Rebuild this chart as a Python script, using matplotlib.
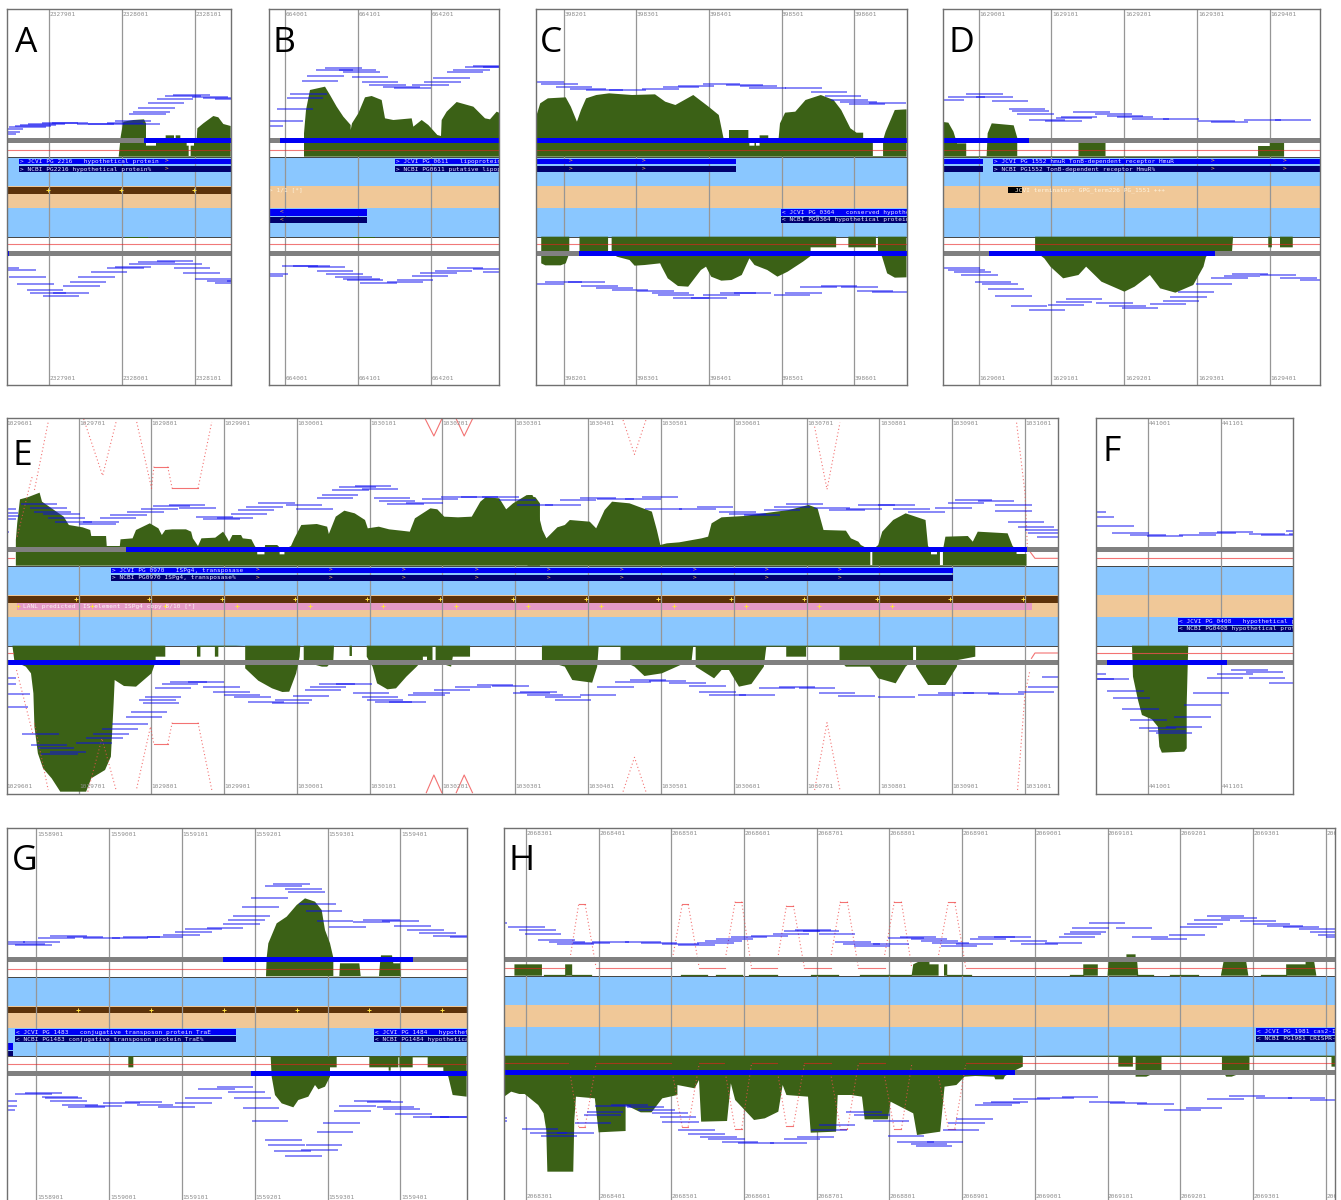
import numpy as np
import matplotlib
matplotlib.use("Agg")
import matplotlib.pyplot as plt

W, H = 1341, 1200

# ---------- measuring scales: picture position = offset + value / scale ----------
S1 = (0, 3.0)
S2 = (530, 1.96)
S3 = (0, 2.904)
S4 = (530, 2.01)
S6 = (495, 1.853)
PX = (0, 1.0)

# ---------- tick labels ----------
a_ticks = ["2327901", "2328001", "2328101"]
b_ticks = ["664001", "664101", "664201"]
c_ticks = ["398201", "398301", "398401", "398501", "398601"]
d_ticks = ["1629001", "1629101", "1629201", "1629301", "1629401"]
e_ticks = ["1029601", "1029701", "1029801", "1029901", "1030001", "1030101", "1030201", "1030301",
           "1030401", "1030501", "1030601", "1030701", "1030801", "1030901", "1031001"]
f_ticks = ["441001", "441101"]
g_ticks = ["1558901", "1559001", "1559101", "1559201", "1559301", "1559401"]
h_ticks = ["2068301", "2068401", "2068501", "2068601", "2068701", "2068801", "2068901", "2069001",
           "2069101", "2069201", "2069301", "2069401"]

a_tick_pos = [148, 366, 585]
b_tick_pos = [856, 1075, 1293]
c_tick_pos = [66, 208, 351, 493, 636]
d_tick_pos = [880, 1022, 1165, 1308, 1450]
e_tick_pos = [5.7, 78.5, 151.2, 224.2, 296.8, 369.5, 442.1, 515.1, 588.2, 660.8, 733.5, 806.6, 879.3, 951.9, 1025]
f_tick_pos = [1148.4, 1221]
g_tick_pos = [109, 328, 546, 765, 983, 1201]
h_tick_pos = [57, 192, 326, 462, 597, 731, 866, 1001, 1135, 1270, 1405, 1540]

# ---------- coverage profiles (position, level) ----------
a_top_cov = [(356,470),(362,410),(370,365),(400,360),(432,358),(438,370),(438,437),(468,437),(468,420),(497,420),(497,406),(522,406),(522,420),(527,420),(527,406),(541,406),(541,420),(560,420),(560,437),(566,437),(566,468),(572,468),(572,437),(582,437),(582,420),(590,420),(592,385),(610,370),(640,348),(655,352),(670,372),(692,378)]
a_bot_cov = [(375,710),(375,714),(445,714),(445,710)]
b_top_cov = [(912,470),(912,400),(918,330),(930,270),(975,260),(990,285),(1010,320),(1030,350),(1052,375),(1052,390),(1056,370),(1075,340),(1095,292),(1115,288),(1145,300),(1155,355),(1180,360),(1235,355),(1240,380),(1265,360),(1285,375),(1312,405),(1323,408),(1325,360),(1340,335),(1370,306),(1420,320),(1455,355),(1470,358),(1490,335),(1497,338)]
b_bot_cov = [(1060,710),(1060,713),(1125,713),(1125,710)]
c_top_cov = [(11,355),(20,310),(35,295),(70,292),(80,320),(92,365),(100,330),(110,295),(130,285),(155,280),(200,285),(245,283),(265,305),(285,315),(320,285),(350,320),(370,345),(380,420),(390,420),(390,390),(428,390),(428,420),(430,420),(430,437),(440,437),(440,420),(443,420),(443,437),(450,437),(450,406),(467,406),(467,420),(487,420),(490,370),(500,338),(520,335),(540,300),(570,285),(595,300),(610,330),(628,385),(640,398),(653,398),(653,420),(672,420),(672,468),(692,468),(692,420),(697,395),(715,330),(738,328)]
c_bot_cov = [(22,710),(22,790),(30,796),(60,796),(70,790),(77,760),(77,710),(97,710),(97,754),(153,754),(153,710),(160,710),(160,754),(170,770),(195,780),(205,797),(225,795),(255,790),(258,800),(270,835),(290,858),(310,860),(335,810),(345,800),(355,830),(375,842),(395,840),(415,825),(430,775),(440,795),(465,810),(485,830),(505,815),(535,785),(550,768),(550,742),(600,742),(600,710),(624,710),(624,742),(678,742),(678,710),(682,710),(682,754),(690,770),(700,820),(715,833),(738,832)]
d_top_cov = [(810,470),(810,366),(820,368),(830,395),(837,430),(855,430),(855,468),(895,468),(897,400),(905,370),(948,376),(955,413),(955,468),(1075,468),(1075,428),(1128,428),(1128,468),(1427,468),(1427,438),(1450,438),(1450,428),(1478,428),(1478,470)]
d_bot_cov = [(990,710),(990,754),(1008,775),(1020,800),(1045,835),(1075,825),(1090,800),(1120,845),(1165,875),(1185,860),(1215,825),(1235,865),(1265,878),(1300,855),(1320,800),(1325,770),(1340,754),(1376,754),(1378,710),(1447,710),(1447,742),(1454,742),(1454,710),(1470,710),(1470,742),(1495,742),(1495,710)]
e1_top_cov = [(46,467),(46,390),(50,340),(58,268),(80,262),(115,248),(122,275),(150,295),(185,320),(200,345),(240,352),(262,360),(265,378),(308,378),(310,408),(348,408),(350,388),(385,385),(395,360),(435,340),(460,355),(470,375),(480,360),(500,358),(540,358),(555,365),(560,385),(575,408),(585,385),(625,383),(648,365),(660,385),(665,395),(675,375),(700,375),(705,385),(730,388),(740,408),(747,418),(747,433),(768,433),(768,418),(770,405),(805,405),(810,410),(812,418),(812,433),(826,433),(826,418),(845,408),(855,385),(875,345),(920,342),(950,350),(955,372),(975,320),(1000,302),(1030,310),(1060,330),(1068,355),(1100,350),(1130,358),(1165,362),(1190,365),(1205,325),(1250,295),(1270,298),(1290,320),(1330,322),(1370,320),(1395,275),(1410,262),(1450,265),(1470,298),(1490,280),(1530,255),(1555,262),(1568,280)]
e2_top_cov = [(-5,255),(5,255),(15,300),(25,360),(33,385),(55,352),(70,345),(80,330),(120,335),(133,355),(150,300),(165,275),(200,280),(245,305),(255,360),(262,405),(275,400),(300,397),(345,385),(358,380),(365,340),(385,322),(430,318),(520,300),(560,285),(578,295),(590,360),(635,362),(645,385),(660,395),(665,405),(684,420),(684,465),(688,465),(688,420),(700,405),(708,365),(730,330),(755,310),(795,330),(800,408),(806,420),(806,433),(818,433),(818,420),(824,420),(824,465),(830,465),(830,420),(835,380),(880,378),(890,395),(900,365),(960,370),(970,408),(978,420),(978,432),(998,432),(998,467)]
e1_bot_cov = [(36,707),(42,755),(75,770),(90,790),(97,850),(100,950),(110,1030),(125,1075),(150,1105),(175,1145),(250,1145),(265,1105),(305,1080),(322,1040),(330,880),(333,810),(360,828),(395,830),(440,790),(452,755),(452,740),(480,740),(480,707),(572,707),(572,740),(582,740),(582,710),(624,710),(624,740),(634,740),(634,710),(712,707),(712,775),(750,812),(790,835),(820,846),(840,845),(860,790),(870,740),(872,707),(882,707),(882,755),(935,770),(950,770),(968,750),(970,707),(1015,707),(1015,738),(1022,738),(1022,707),(1065,707),(1065,740),(1082,770),(1095,820),(1125,838),(1150,835),(1180,800),(1210,770),(1228,750),(1228,740),(1240,740),(1240,750),(1256,750),(1256,710),(1265,710),(1265,755),(1310,770),(1315,740),(1365,740),(1365,707)]
e2_bot_cov = [(24,707),(24,750),(70,770),(85,810),(125,818),(135,770),(138,710),(182,710),(182,750),(210,770),(230,798),(265,790),(295,770),(325,750),(328,710),(333,710),(333,770),(370,805),(385,780),(400,780),(420,830),(445,822),(470,770),(475,710),(515,710),(515,740),(555,740),(555,710),(622,710),(622,750),(635,770),(683,770),(700,805),(735,820),(755,770),(770,750),(770,710),(776,710),(776,770),(800,825),(835,825),(858,770),(860,750),(895,740),(895,710)]
f_bot_cov = [(1210,707),(1212,800),(1222,870),(1230,915),(1250,928),(1262,950),(1265,1010),(1270,1028),(1315,1025),(1320,1015),(1320,880),(1323,710)]
g_top_cov = [(798,468),(800,413),(805,370),(830,310),(860,290),(890,255),(915,235),(945,245),(965,270),(975,330),(990,370),(1000,413),(1000,468),(1018,468),(1020,430),(1078,430),(1082,468),(1137,468),(1140,430),(1143,406),(1176,406),(1180,430),(1200,430),(1202,468)]
g_bot_cov = [(385,710),(385,742),(400,742),(400,710),(812,710),(815,770),(825,825),(845,850),(880,862),(895,840),(925,830),(945,795),(955,808),(975,800),(990,770),(990,742),(1010,742),(1010,710),(1108,710),(1108,742),(1166,742),(1166,752),(1172,752),(1172,742),(1195,742),(1195,712),(1198,712),(1198,742),(1238,742),(1238,712),(1283,712),(1283,742),(1330,742),(1330,752),(1345,770),(1358,825),(1400,830)]
h_top_cov = [(36,467),(36,433),(87,433),(87,467),(130,467),(130,433),(143,433),(143,467),(772,467),(775,433),(785,425),(805,425),(805,433),(822,433),(822,467),(832,467),(832,433),(838,433),(838,467),(1090,467),(1090,433),(1117,433),(1117,467),(1135,467),(1137,425),(1170,425),(1170,403),(1187,403),(1187,425),(1190,425),(1192,467),(1345,467),(1350,425),(1392,425),(1396,467),(1466,467),(1466,433),(1502,433),(1502,425),(1518,425),(1522,467)]
h_bot_cov = [(17,707),(17,830),(30,815),(45,822),(55,822),(80,855),(90,880),(95,930),(97,1055),(145,1055),(147,900),(150,830),(185,835),(192,937),(242,933),(242,855),(270,877),(290,877),(310,835),(338,825),(338,795),(370,805),(378,780),(382,905),(430,903),(437,790),(445,840),(480,900),(500,895),(525,875),(533,795),(540,825),(580,830),(585,938),(632,935),(635,825),(660,825),(680,830),(685,898),(728,898),(733,845),(775,880),(782,945),(825,935),(833,800),(855,795),(870,770),(890,768),(925,770),(927,778),(942,778),(945,768),(965,750),(978,740),(978,707),(1155,710),(1155,740),(1182,740),(1182,710),(1187,710),(1187,770),(1207,770),(1235,750),(1235,710),(1347,710),(1347,750),(1355,770),(1365,770),(1398,750),(1398,710),(1550,710),(1550,740),(1557,740)]
h_low_runs = [(90,130),(143,178),(345,393),(410,458),(470,522),(585,635),(677,728),(728,770),(838,882),(1065,1090),(1190,1220),(1250,1303),(1420,1466)]

# ---------- read placements (start, level) ----------
a_top_reads = [(-60,402),(-50,395),(-40,388),(28,382),(45,378),(60,376),(85,371),(125,369),(155,369),(232,371),(264,372),(320,370),(345,362),(370,372),(388,342),(400,335),(415,324),(443,309),(470,296),(495,288),(520,285),(575,291),(645,296),(610,293)]
a_bot_reads = [(-53,803),(0,811),(28,831),(52,853),(80,871),(90,880),(128,887),(158,880),(190,859),(210,846),(235,830),(272,815),(322,804),(345,802),(388,792),(415,786),(470,783),(497,793),(522,804),(550,820),(585,838),(620,843),(645,849),(680,842)]
b_top_reads = [(740,378),(800,363),(830,326),(860,295),(870,282),(905,243),(922,229),(948,210),(975,204),(1018,211),(1030,217),(1055,230),(1085,247),(1108,254),(1150,260),(1183,265),(1237,256),(1272,245),(1300,235),(1340,216),(1360,210),(1395,200),(1420,198),(1450,200)]
b_bot_reads = [(740,827),(755,821),(845,799),(880,799),(925,800),(950,813),(978,822),(1005,830),(1030,838),(1080,848),(1040,841),(1160,845),(1190,839),(1235,827),(1260,820),(1305,812),(1340,804),(1420,806),(1450,815)]
c_top_reads = [(-5,246),(22,251),(50,262),(78,266),(110,270),(155,271),(220,268),(260,262),(290,257),(340,253),(385,254),(412,258),(430,264),(500,264),(550,277),(578,288),(590,300),(608,306),(625,313),(665,309)]
c_bot_reads = [(-5,852),(30,846),(75,847),(100,857),(130,865),(160,870),(210,873),(240,878),(250,885),(280,895),(315,895),(340,885),(372,880),(400,880),(478,885),(500,878),(530,860),(570,857),(610,862),(640,872),(670,875)]
d_top_reads = [(780,300),(820,290),(855,282),(875,290),(905,302),(938,327),(945,334),(955,342),(978,360),(1010,362),(1030,355),(1040,350),(1065,337),(1108,342),(1130,347),(1150,352),(1180,357),(1240,358),(1310,362),(1335,365),(1400,361),(1460,360)]
d_bot_reads = [(810,805),(820,810),(832,817),(845,825),(872,845),(885,853),(897,868),(912,887),(942,919),(978,929),(1015,915),(1030,907),(1050,897),(1110,910),(1135,917),(1160,923),(1215,912),(1240,903),(1255,890),(1270,877),(1305,853),(1335,833),(1360,827),(1375,822),(1430,825),(1470,833),(1510,840)]
e1_top_reads = [(-60,298),(-55,308),(-50,318),(-60,328),(-80,365),(60,282),(88,293),(100,305),(125,312),(140,323),(160,335),(230,343),(240,335),(290,323),(320,315),(370,305),(410,296),(445,288),(490,286),(520,295),(570,320),(590,326),(630,325),(670,312),(690,300),(715,290),(750,280),(830,285),(860,296),(920,265),(935,256),(965,240),(985,232),(1030,228),(1050,238),(1085,265),(1100,272),(1125,283),(1180,280),(1225,268),(1280,260),(1340,260),(1400,262),(1450,270),(1500,285)]
e2_top_reads = [(30,285),(60,270),(100,265),(135,267),(190,267),(225,260),(232,297),(300,297),(335,291),(380,305),(400,312),(430,315),(470,300),(490,290),(515,282),(570,295),(600,300),(635,296),(660,285),(700,286),(730,298),(760,305),(815,295),(840,280),(855,270),(900,272),(935,285),(935,303),(960,335),(980,352),(995,360),(1000,368),(1020,380)]
e1_bot_reads = [(-60,805),(-60,822),(-20,852),(-25,890),(65,971),(90,1005),(110,1015),(120,1033),(145,1025),(220,1000),(250,985),(270,972),(295,958),(325,943),(365,920),(380,907),(415,880),(405,870),(420,860),(450,835),(470,822),(495,816),(545,817),(590,830),(620,845),(650,855),(680,862),(720,875),(790,878),(800,870),(850,858),(885,840),(900,830),(925,822),(975,823),(1025,848),(1050,860),(1065,870),(1090,876),(1130,877),(1185,855),(1200,848),(1260,840),(1320,830),(1385,825),(1430,828),(1490,848),(1530,855)]
e2_bot_reads = [(-20,845),(30,860),(50,870),(100,855),(135,830),(170,815),(200,810),(240,813),(280,820),(320,828),(340,845),(360,855),(420,855),(460,835),(500,832),(540,835),(580,848),(620,858),(700,860),(780,855),(820,848),(870,848),(920,853),(980,845),(1000,830),(1030,800)]
f_top_reads = [(1085,306),(1100,320),(1140,347),(1170,368),(1205,375),(1240,377),(1305,375),(1345,368),(1380,365),(1445,372),(1470,376),(1520,362),(1525,372)]
f_bot_reads = [(1085,793),(1100,807),(1130,807),(1160,843),(1172,865),(1190,897),(1207,930),(1225,954),(1245,962),(1258,968),(1278,950),(1295,920),(1315,885),(1332,848),(1360,803),(1380,793),(1410,781),(1440,787),(1445,803),(1485,818)]
g_top_reads = [(-35,365),(25,373),(45,375),(70,365),(115,353),(150,348),(200,350),(250,354),(335,354),(370,352),(440,350),(490,344),(525,335),(555,328),(620,325),(670,312),(685,301),(700,288),(727,262),(753,234),(795,198),(820,192),(855,208),(865,216),(898,253),(917,272),(950,303),(988,320),(1060,305),(1090,299),(1147,303),(1183,317),(1222,330),(1258,338),(1300,347),(1350,352)]
g_bot_reads = [(-60,842),(-60,859),(-65,870),(45,822),(75,820),(125,830),(135,835),(150,843),(185,856),(205,860),(255,858),(310,848),(375,845),(410,855),(475,860),(525,848),(555,834),(595,808),(650,802),(685,816),(703,834),(728,865),(755,903),(795,961),(805,976),(822,993),(855,1009),(903,989),(917,976),(950,935),(970,908),(1002,872),(1017,858),(1062,842),(1100,847),(1132,860),(1150,868),(1185,882),(1238,892),(1290,892),(1320,892)]
h_top_reads = [(-45,310),(25,320),(45,331),(55,341),(80,360),(100,367),(115,372),(145,370),(180,366),(240,366),(270,369),(310,372),(340,375),(375,370),(390,362),(410,358),(437,350),(475,348),(515,341),(535,332),(555,330),(570,334),(600,342),(630,367),(645,373),(665,378),(700,373),(728,355),(750,350),(770,356),(790,364),(810,370),(826,377),(855,372),(880,358),(895,352),(925,350),(955,362),(975,372),(1020,370),(1045,350),(1055,343),(1065,335),(1070,325),(1100,310),(1150,325),(1180,350),(1215,356),(1248,344),(1270,321),(1282,312),(1295,300),(1320,288),(1345,295),(1380,303),(1405,312),(1430,318),(1460,322),(1490,328),(1510,335),(1525,345),(1540,352)]
h_bot_reads = [(-45,893),(-45,903),(50,928),(65,938),(85,948),(115,940),(148,910),(165,885),(170,875),(185,858),(215,855),(245,860),(265,870),(290,880),(305,892),(310,907),(340,930),(358,942),(380,952),(395,958),(420,965),(450,970),(510,968),(535,958),(560,950),(585,930),(600,915),(650,877),(665,885),(700,903),(728,947),(745,965),(770,972),(780,978),(800,965),(855,897),(840,908),(830,930),(890,855),(905,848),(920,845),(960,838),(1005,833),(1050,832),(1100,845),(1140,848),(1190,853),(1240,870),(1280,863),(1320,838),(1360,828),(1410,835),(1470,835),(1510,840)]

# ---------- transcript model traces ----------
e1_dotted = [[(50,380),(92,203),(100,203)], [(100,240),(140,36)], [(243,27),(298,197),(337,36)],
             [(397,36),(440,235),(447,170)], [(487,170),(500,235)], [(575,235),(615,36)],
             [(48,780),(95,970)], [(100,940),(140,1140)], [(255,1145),(296,985),(337,1140)],
             [(397,1135),(437,950),(447,1003)], [(487,1003),(500,938)], [(575,938),(615,1140)]]
e1_solid = [[(447,170),(487,170)], [(500,235),(575,235)], [(447,1003),(487,1003)], [(500,938),(575,938)],
            [(1235,27),(1260,78),(1283,27)], [(1325,27),(1348,78),(1372,27)],
            [(1238,1148),(1260,1095),(1283,1148)], [(1325,1148),(1348,1095),(1372,1148)],
            [(20,445),(42,445)], [(20,729),(38,729)]]
e2_dotted = [[(187,30),(210,133),(233,30)], [(572,50),(597,238),(623,38)], [(978,38),(995,250),(1000,420)],
             [(187,1145),(210,1042),(233,1145)], [(572,1140),(597,938),(623,1140)], [(980,1140),(995,850),(1005,780)]]
e2_solid = [[(1005,425),(1015,445),(1060,445)], [(1008,745),(1015,729),(1060,729)]]
f_solid = [[(1138,445),(1533,445)], [(1138,729),(1533,729)]]
h_hump_x = [(140,155,167,187),(330,347,358,378),(428,445,457,475),(525,540,553,573),(623,640,653,673),(722,740,753,772),(822,840,852,872)]
h_hump_top = [253, 253, 245, 257, 245, 245, 247]
h_hump_bot = [920, 920, 928, 917, 928, 928, 926]
h_line_top = [(17,130),(187,326),(378,426),(475,523),(573,622),(673,722),(872,1557)]
h_line_bot = [(17,135),(187,326),(378,424),(477,522),(573,622),(675,722),(872,1557)]

# ---------- strand bars (start, end, kind) ----------
a_top_bar = [(22,432,"g"),(432,692,"b")]
a_bot_bar = [(22,28,"b"),(28,692,"g")]
b_top_bar = [(806,840,"g"),(840,1497,"b")]
b_bot_bar = [(806,1497,"g")]
c_top_bar = [(11,738,"b")]
c_bot_bar = [(11,97,"g"),(97,738,"b")]
d_top_bar = [(810,978,"b"),(978,1549,"g")]
d_bot_bar = [(810,900,"g"),(900,1342,"b"),(1342,1549,"g")]
e_top_bar = [(7,126,"g"),(126,1026.5,"b"),(1026.5,1058,"g")]
e_bot_bar = [(7,180,"b"),(180,1058,"g")]
f_top_bar = [(1138,1533,"g")]
f_bot_bar = [(1138,1160,"g"),(1160,1400,"b"),(1400,1533,"g")]
g_top_bar = [(22,669,"g"),(669,1240,"b"),(1240,1400,"g")]
g_bot_bar = [(22,753,"g"),(753,1400,"b")]
h_top_bar = [(17,1557,"g")]
h_bot_bar = [(17,963,"b"),(963,1557,"g")]

# ---------- genes (start, end, upper label, lower label) ----------
a_fwd = [(58,692,"> JCVI PG_2216   hypothetical protein","> NCBI PG2216 hypothetical protein%")]
b_fwd = [(1185,1497,"> JCVI PG_0611   lipoprotein","> NCBI PG0611 putative lipoprotein")]
b_rev = [(806,1101,"","")]
c_fwd = [(11,403,"","")]
c_rev = [(492,738,"< JCVI PG_0364   conserved hypothetical","< NCBI PG0364 hypothetical protein%")]
d_fwd = [(810,888,"",""),(907,1549,"> JCVI PG_1552 hmuR TonB-dependent receptor HmuR","> NCBI PG1552 TonB-dependent receptor HmuR%")]
e_fwd = [(111,953.4,"> JCVI PG_0970   ISPg4, transposase","> NCBI PG0970 ISPg4, transposase%")]
f_rev = [(1303,1533,"< JCVI PG_0408   hypothetical protein","< NCBI PG0408 hypothetical protein")]
g_rev = [(46,709,"< JCVI PG_1483   conjugative transposon protein TraE","< NCBI PG1483 conjugative transposon protein TraE%"),
         (1122,1400,"< JCVI PG_1484   hypothetical protein","< NCBI PG1484 hypothetical protein")]
h_rev = [(1410,1557,"< JCVI PG_1981 cas2-I","< NCBI PG1981 CRISPR-associated")]

a_arrows = [500]
b_arrows_rev = [846]
c_arrows = [80, 222]
d_arrows = [1338, 1480]
e_arrows = [258, 330.6, 403.6, 477, 549, 622, 695, 767, 840]

a_plus = [144, 362, 581]
e_plus = [76.4, 149, 222, 295, 367, 440, 513, 586, 658, 731, 804, 877, 950, 1022.5]
e_pink_plus = [18, 92, 165, 237, 310, 383, 455.6, 528, 601, 674, 746, 819, 892]
g_plus = [235, 454, 672, 890, 1108, 1327]

# ---------- colours ----------
GREEN = "#3b6116"
SKY = "#8ac7ff"
TAN = "#f0c898"
BROWN = "#5c3209"
PINK = "#e59ac6"
BLUE = "#0000f5"
NAVY = "#00006e"
GREY = "#808080"
RED = "#e82020"
MONO = "DejaVu Sans Mono"
LETTER = "Open Sans"

fig = plt.figure(figsize=(W / 100, H / 100), dpi=100, facecolor="white")


def fx(vals, scale):
    ox, s = scale
    return ox + np.asarray(vals, dtype=float) / s


def make_axes(left, top, right, bottom, yoff, d, frame_bottom=True):
    ax = fig.add_axes([left / W, 1 - bottom / H, (right - left) / W, (bottom - top) / H])
    ax.set_xlim(left, right)
    ax.set_ylim((bottom - yoff) * 3, (top - yoff) * 3)
    ax.set_xticks([])
    ax.set_yticks([])
    for name, sp in ax.spines.items():
        sp.set_color("#707070")
        sp.set_linewidth(1.0)
        sp.set_zorder(20)
    if not frame_bottom:
        ax.spines["bottom"].set_visible(False)
    ax.axhspan(472 + d, 559 + d, color=SKY, lw=0, zorder=2)
    ax.axhspan(559 + d, 625 + d, color=TAN, lw=0, zorder=2)
    ax.axhspan(625 + d, 710 + d, color=SKY, lw=0, zorder=2)
    ax.axhline(471 + d, color="#444444", lw=0.7, zorder=3)
    ax.axhline(710 + d, color="#444444", lw=0.7, zorder=3)
    return ax


def ticks(ax, positions, labels, scale, d, bottom_y=1134):
    xs = fx(positions, scale)
    for x, lab in zip(xs, labels):
        ax.axvline(x, color="#969696", lw=0.9, zorder=4)
        for y in (44 + d, bottom_y + d):
            ax.text(x + 0.5, y, lab, family=MONO, fontsize=4.4, color="#8c8c8c", va="center", ha="left",
                    clip_on=True, zorder=15)


def coverage(ax, pts, base, scale):
    x = fx([p[0] for p in pts], scale)
    y = np.array([p[1] for p in pts], dtype=float)
    ax.fill(np.r_[x, x[-1], x[0]], np.r_[y, base, base], color=GREEN, lw=0, zorder=5)


def reads(ax, pts, scale):
    x = fx([p[0] for p in pts], scale)
    y = [p[1] for p in pts]
    ax.hlines(y, x, x + 36.5, color="#0a0af0", alpha=0.6, lw=1.15, zorder=8)


def bars(ax, segs, y0, y1, scale):
    for a, b, k in segs:
        xa, xb = fx([a, b], scale)
        ax.fill_between([xa, xb], y0, y1, color=BLUE if k == "b" else GREY, lw=0, zorder=9)


def genes(ax, items, y_rows, scale):
    for a, b, t1, t2 in items:
        xa, xb = fx([a, b], scale)
        for (y0, y1), col, lab in zip(y_rows, (BLUE, NAVY), (t1, t2)):
            ax.fill_between([xa, xb], y0, y1, color=col, lw=0, zorder=6)
            if lab:
                ax.text(xa + 1, (y0 + y1) / 2, lab, family=MONO, fontsize=4.4, color="#e8e8ff",
                        va="center", ha="left", clip_on=True, zorder=7)


def arrows(ax, xs, rows, scale, glyph=">"):
    for x in fx(xs, scale):
        for y in rows:
            ax.text(x, y, glyph, family=MONO, fontsize=4.4, color="#ffc040", va="center", ha="center",
                    clip_on=True, zorder=7)


def redlines(ax, ys, left, right, d):
    for y in ys:
        ax.plot([left, right], [y + d, y + d], color=RED, alpha=0.6, lw=0.8, zorder=7)


def traces(ax, lines, scale, dotted):
    for ln in lines:
        x = fx([p[0] for p in ln], scale)
        y = [p[1] for p in ln]
        ax.plot(x, y, color="#f05050", lw=0.8, alpha=0.8, ls=(0, (1, 2.2)) if dotted else "-", zorder=7)


def letter(ax_letter, x, y):
    fig.text(x / W, 1 - y / H, ax_letter, family=LETTER, fontsize=25.5, color="black", va="baseline", ha="left",
             zorder=30)


TOP_ROWS = ((476, 492), (498, 516))
REV_ROWS = ((627, 647), (650, 668))


def shift(rows, d):
    return tuple((a + d, b + d) for a, b in rows)


def band_brown(ax, plus, scale, d):
    ax.axhspan(562 + d, 581 + d, color=BROWN, lw=0, zorder=3)
    ax.plot(fx(plus, scale), [570 + d] * len(plus), ls="", marker="+", ms=2.8, mew=0.7, color="#ffe040", zorder=4.5)


# ---- panel A ----
ax = make_axes(7.3, 9, 230.7, 385, 0, 0)
ticks(ax, a_tick_pos, a_ticks, S1, 0)
band_brown(ax, a_plus, S1, 0)
redlines(ax, [449, 733], 7.3, 230.7, 0)
coverage(ax, a_top_cov, 470, S1); coverage(ax, a_bot_cov, 710, S1)
reads(ax, a_top_reads, S1); reads(ax, a_bot_reads, S1)
bars(ax, a_top_bar, 413, 428, S1); bars(ax, a_bot_bar, 754, 768, S1)
genes(ax, a_fwd, TOP_ROWS, S1)
arrows(ax, a_arrows, (484, 507), S1)
letter("A", 15, 52)

# ---- panel B ----
ax = make_axes(268.7, 9, 499, 385, 0, 0)
ticks(ax, b_tick_pos, b_ticks, S1, 0)
redlines(ax, [449, 733], 268.7, 499, 0)
coverage(ax, b_top_cov, 470, S1); coverage(ax, b_bot_cov, 710, S1)
reads(ax, b_top_reads, S1); reads(ax, b_bot_reads, S1)
bars(ax, b_top_bar, 413, 428, S1); bars(ax, b_bot_bar, 754, 768, S1)
genes(ax, b_fwd, TOP_ROWS, S1); genes(ax, b_rev, REV_ROWS, S1)
arrows(ax, b_arrows_rev, (636, 659), S1, "<")
ax.text(268.7, 570, "> 1/1 [*]", family=MONO, fontsize=4.4, color="#fff4e0", va="center", ha="left", zorder=7)
letter("B", 273, 52)

# ---- panel C ----
ax = make_axes(535.6, 9, 906.5, 385, 0, 0)
ticks(ax, c_tick_pos, c_ticks, S2, 0)
redlines(ax, [449, 733], 535.6, 906.5, 0)
coverage(ax, c_top_cov, 470, S2); coverage(ax, c_bot_cov, 710, S2)
reads(ax, c_top_reads, S2); reads(ax, c_bot_reads, S2)
bars(ax, c_top_bar, 413, 428, S2); bars(ax, c_bot_bar, 754, 768, S2)
genes(ax, c_fwd, TOP_ROWS, S2); genes(ax, c_rev, REV_ROWS, S2)
arrows(ax, c_arrows, (484, 507), S2)
letter("C", 540, 52)

# ---- panel D ----
ax = make_axes(943.3, 9, 1320.3, 385, 0, 0)
ticks(ax, d_tick_pos, d_ticks, S2, 0)
redlines(ax, [449, 733], 943.3, 1320.3, 0)
coverage(ax, d_top_cov, 470, S2); coverage(ax, d_bot_cov, 710, S2)
reads(ax, d_top_reads, S2); reads(ax, d_bot_reads, S2)
bars(ax, d_top_bar, 413, 428, S2); bars(ax, d_bot_bar, 754, 768, S2)
genes(ax, d_fwd, TOP_ROWS, S2)
arrows(ax, d_arrows, (484, 507), S2)
ax.fill_between(fx([937, 965], S2), 562, 580, color="black", lw=0, zorder=6)
ax.text(fx(950, S2), 571, "JCVI terminator: GPG_term226 PG_1551 +++", family=MONO, fontsize=4.4, color="#fff4e0",
        va="center", ha="left", clip_on=True, zorder=7)
letter("D", 948, 52)

# ---- panel E ----
D3 = -3
ax = make_axes(7, 417.7, 1057.5, 793.5, 410, D3)
ticks(ax, e_tick_pos, e_ticks, PX, D3)
band_brown(ax, e_plus, PX, D3)
ax.fill_between([17, 1032], 580, 600, color=PINK, lw=0, zorder=3)
ax.plot(e_pink_plus, [589] * len(e_pink_plus), ls="", marker="+", ms=2.8, mew=0.7, color="#ffe040", zorder=4.5)
ax.text(23, 589, "LANL predicted  IS element ISPg4 copy 8/10 [*]", family=MONO, fontsize=4.4, color="#fff4f4",
        va="center", ha="left", zorder=7)
coverage(ax, e1_top_cov, 467, S3); coverage(ax, e2_top_cov, 467, S4)
coverage(ax, e1_bot_cov, 707, S3); coverage(ax, e2_bot_cov, 707, S4)
reads(ax, e1_top_reads, S3); reads(ax, e2_top_reads, S4)
reads(ax, e1_bot_reads, S3); reads(ax, e2_bot_reads, S4)
traces(ax, e1_dotted, S3, True); traces(ax, e1_solid, S3, False)
traces(ax, e2_dotted, S4, True); traces(ax, e2_solid, S4, False)
bars(ax, e_top_bar, 410, 425, PX); bars(ax, e_bot_bar, 751, 765, PX)
genes(ax, e_fwd, shift(TOP_ROWS, D3), PX)
arrows(ax, e_arrows, (481, 503), PX)
letter("E", 12, 465)

# ---- panel F ----
ax = make_axes(1096, 417.7, 1293, 793.5, 410, D3)
ticks(ax, f_tick_pos, f_ticks, PX, D3)
coverage(ax, f_bot_cov, 707, S4)
reads(ax, f_top_reads, S4); reads(ax, f_bot_reads, S4)
traces(ax, f_solid, S4, False)
bars(ax, f_top_bar, 410, 425, S4); bars(ax, f_bot_bar, 751, 765, S4)
genes(ax, f_rev, shift(REV_ROWS, D3), S4)
letter("F", 1102, 461)

# ---- panel G ----
D5 = -1
ax = make_axes(7.3, 828, 466.7, 1200, 820, D5, frame_bottom=False)
ticks(ax, g_tick_pos, g_ticks, S1, D5)
band_brown(ax, g_plus, S1, D5)
redlines(ax, [449, 733], 7.3, 466.7, D5)
coverage(ax, g_top_cov, 469, S1); coverage(ax, g_bot_cov, 709, S1)
reads(ax, g_top_reads, S1); reads(ax, g_bot_reads, S1)
bars(ax, g_top_bar, 412, 427, S1); bars(ax, g_bot_bar, 753, 767, S1)
genes(ax, g_rev, ((627, 646), (649, 666)), S1)
ax.fill_between(fx([22, 40], S1), 670, 690, color=BLUE, lw=0, zorder=6)
ax.fill_between(fx([22, 40], S1), 692, 709, color=NAVY, lw=0, zorder=6)
letter("G", 12, 870)

# ---- panel H ----
ax = make_axes(504.2, 828, 1335.3, 1200, 820, D3, frame_bottom=False)
ticks(ax, h_tick_pos, h_ticks, S6, D3)
coverage(ax, h_top_cov, 467, S6); coverage(ax, h_bot_cov, 707, S6)
for a, b in h_low_runs:
    ax.plot(fx([a, b], S6), [465.5, 465.5], color=GREEN, lw=0.9, zorder=5)
for a, b in h_line_top:
    ax.plot(fx([a, b], S6), [445, 445], color=RED, alpha=0.6, lw=0.8, zorder=7)
for a, b in h_line_bot:
    ax.plot(fx([a, b], S6), [729, 729], color=RED, alpha=0.6, lw=0.8, zorder=7)
for hx, yt, yb in zip(h_hump_x, h_hump_top, h_hump_bot):
    traces(ax, [[(hx[0], 405), (hx[1], yt)], [(hx[2], yt), (hx[3], 440)],
                [(hx[0], 770), (hx[1], yb)], [(hx[2], yb), (hx[3], 735)]], S6, True)
    traces(ax, [[(hx[1], yt), (hx[2], yt)], [(hx[1], yb), (hx[2], yb)]], S6, False)
reads(ax, h_top_reads, S6); reads(ax, h_bot_reads, S6)
bars(ax, h_top_bar, 410, 425, S6); bars(ax, h_bot_bar, 751, 765, S6)
genes(ax, h_rev, shift(REV_ROWS, D3), S6)
letter("H", 509, 870)

fig.savefig("out.png", dpi=100, facecolor="white")
